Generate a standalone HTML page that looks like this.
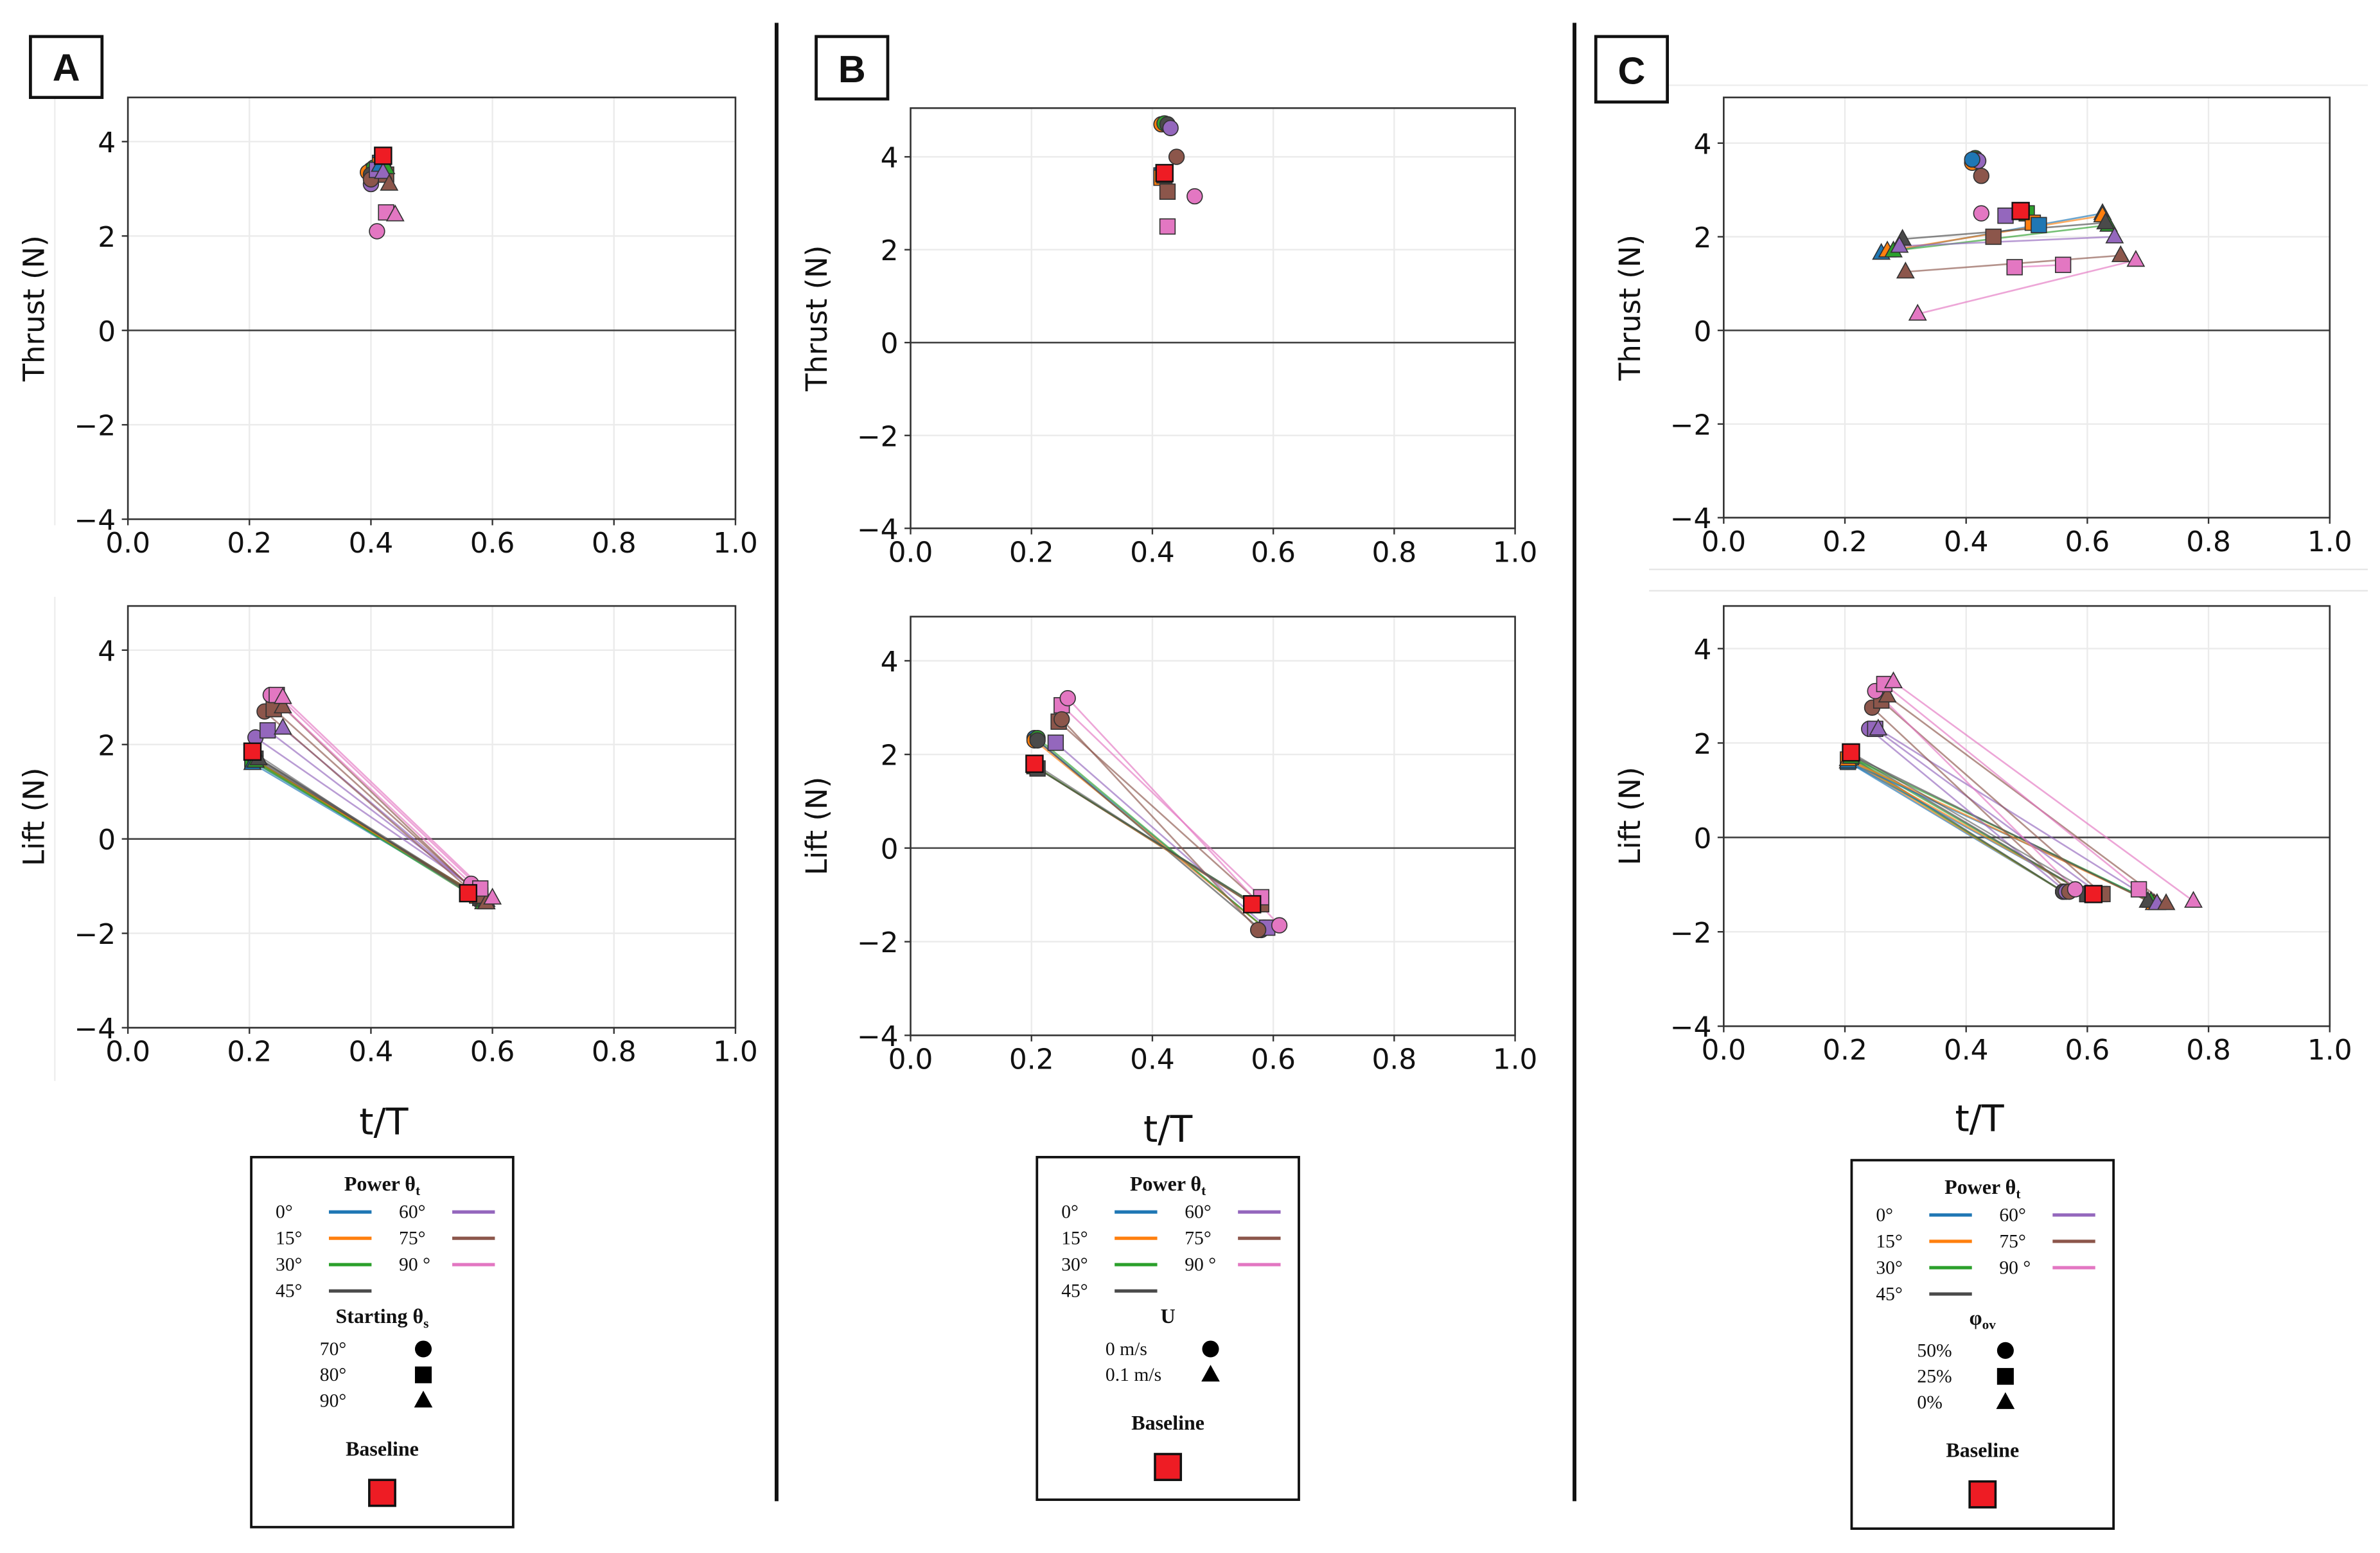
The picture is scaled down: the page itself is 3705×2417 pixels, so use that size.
<!DOCTYPE html>
<html><head><meta charset="utf-8"><style>
html,body{margin:0;padding:0;background:#fff}
svg{display:block}
.tick{font-family:"DejaVu Sans","Liberation Sans",sans-serif;font-size:18.5px;fill:#111}
.ylab{font-family:"DejaVu Sans","Liberation Sans",sans-serif;font-size:19px;fill:#111}
.xlab{font-family:"DejaVu Sans","Liberation Sans",sans-serif;font-size:24px;fill:#111}
.lg{font-family:"Liberation Serif",serif;font-size:12.5px;fill:#111}
.lgb{font-family:"Liberation Serif",serif;font-size:13.5px;font-weight:bold;fill:#111}
.pl{font-family:"Liberation Sans",sans-serif;font-size:25px;font-weight:bold;fill:#111}
</style></head><body>
<svg id="fig" xmlns="http://www.w3.org/2000/svg" width="3705" height="2417" viewBox="0 0 1563 1020" preserveAspectRatio="none">
<rect width="1563" height="1020" fill="#fff"/>
<line x1="510" y1="15" x2="510" y2="986" stroke="#111" stroke-width="2.5"/>
<line x1="1034" y1="15" x2="1034" y2="986" stroke="#111" stroke-width="2.5"/>
<line x1="36" y1="60" x2="36" y2="345" stroke="#eee" stroke-width="1"/>
<line x1="36" y1="392" x2="36" y2="710" stroke="#eee" stroke-width="1"/>
<line x1="1083" y1="56" x2="1555" y2="56" stroke="#eee" stroke-width="1"/>
<line x1="1083" y1="374" x2="1555" y2="374" stroke="#e6e6e6" stroke-width="1"/>
<line x1="1083" y1="388" x2="1555" y2="388" stroke="#e6e6e6" stroke-width="1"/>
<g><rect x="20" y="24" width="47" height="40" fill="#fff" stroke="#111" stroke-width="2"/><text class="pl" x="43.5" y="53" text-anchor="middle">A</text></g>
<g><rect x="536" y="24" width="47" height="41" fill="#fff" stroke="#111" stroke-width="2"/><text class="pl" x="559.5" y="54" text-anchor="middle">B</text></g>
<g><rect x="1048" y="24" width="47" height="43" fill="#fff" stroke="#111" stroke-width="2"/><text class="pl" x="1071.5" y="55" text-anchor="middle">C</text></g>
<text class="xlab" x="252" y="745" text-anchor="middle">t/T</text>
<text class="xlab" x="767" y="750" text-anchor="middle">t/T</text>
<text class="xlab" x="1300" y="743" text-anchor="middle">t/T</text>
<g id="legends"></g>
</svg>
<script>
const NS="http://www.w3.org/2000/svg";
const svg=document.getElementById('fig');
const COL={b:'#1f77b4',o:'#ff7f0e',g:'#2ca02c',k:'#4a4a4a',p:'#9467bd',n:'#8c564b',m:'#e377c2',r:'#ee1c24'};
const xTicks=[0.0,0.2,0.4,0.6,0.8,1.0];
const yTicks=[-4,-2,0,2,4];
// records: [colorKey, shape, t1, v1, t2, v2]  (t2 null => single point)
const thrustA=[
['b','c',0.40,3.40],['o','c',0.395,3.35],['g','c',0.405,3.45],['k','c',0.40,3.30],['p','c',0.40,3.10],['n','c',0.40,3.20],['m','c',0.41,2.10],
['b','s',0.415,3.55],['o','s',0.415,3.50],['g','s',0.42,3.60],['k','s',0.42,3.55],['p','s',0.41,3.40],['n','s',0.425,3.30],['m','s',0.425,2.50],
['b','t',0.415,3.50],['g','t',0.425,3.45],['p','t',0.42,3.35],['n','t',0.43,3.10],['m','t',0.44,2.45]];
const baseThrustA=[0.42,3.70];
const liftA=[
['b','c',0.205,1.70,0.565,-1.10],['o','c',0.205,1.70,0.565,-1.10],['g','c',0.205,1.70,0.565,-1.15],['k','c',0.21,1.75,0.57,-1.15],
['b','s',0.205,1.65,0.575,-1.20],['o','s',0.205,1.70,0.575,-1.20],['g','s',0.205,1.65,0.58,-1.25],['k','s',0.21,1.70,0.58,-1.25],
['b','t',0.205,1.60,0.585,-1.30],['o','t',0.21,1.65,0.585,-1.30],['g','t',0.21,1.65,0.585,-1.35],['k','t',0.215,1.70,0.59,-1.35],
['p','c',0.21,2.15,0.565,-1.00],['p','s',0.23,2.30,0.575,-1.10],['p','t',0.255,2.35,0.59,-1.30],
['n','c',0.225,2.70,0.565,-1.10],['n','s',0.24,2.75,0.58,-1.20],['n','t',0.255,2.80,0.59,-1.35],
['m','c',0.235,3.05,0.565,-0.95],['m','s',0.245,3.05,0.58,-1.05],['m','t',0.255,3.00,0.60,-1.25]];
const baseLiftA=[0.205,1.85,0.56,-1.15];
const thrustB=[
['b','c',0.42,4.70],['o','c',0.415,4.70],['g','c',0.42,4.72],['k','c',0.425,4.70],['p','c',0.43,4.62],['n','c',0.44,4.00],['m','c',0.47,3.15],
['b','s',0.415,3.60],['o','s',0.415,3.55],['g','s',0.42,3.60],['k','s',0.42,3.62],['n','s',0.425,3.25],['m','s',0.425,2.50]];
const baseThrustB=[0.42,3.65];
const liftB=[
['b','c',0.205,2.35,0.585,-1.70],['o','c',0.205,2.30,0.585,-1.70],['g','c',0.21,2.35,0.585,-1.70],['k','c',0.21,2.30,0.58,-1.75],
['b','s',0.205,1.75,0.565,-1.20],['o','s',0.205,1.75,0.565,-1.20],['g','s',0.205,1.75,0.57,-1.20],['k','s',0.21,1.70,0.57,-1.20],
['p','s',0.24,2.25,0.59,-1.70],['n','s',0.245,2.70,0.58,-1.20],['m','s',0.25,3.05,0.58,-1.05],['m','c',0.26,3.20,0.61,-1.65],['n','c',0.25,2.75,0.575,-1.75]];
const baseLiftB=[0.205,1.80,0.565,-1.20];
const thrustC=[
['b','t',0.26,1.65,0.625,2.50],['o','t',0.27,1.70,0.625,2.45],['g','t',0.28,1.70,0.635,2.25],['k','t',0.295,1.95,0.63,2.30],
['p','t',0.29,1.80,0.645,2.00],['n','t',0.30,1.25,0.655,1.60],['m','t',0.32,0.35,0.68,1.50],['m','s',0.48,1.35,0.56,1.40],
['g','c',0.415,3.68],['o','c',0.41,3.58],['k','c',0.415,3.65],['p','c',0.42,3.62],['b','c',0.41,3.65],['n','c',0.425,3.30],['m','c',0.425,2.50],
['p','s',0.465,2.45],['g','s',0.50,2.50],['o','s',0.51,2.30],['b','s',0.52,2.25],['n','s',0.445,2.00]];
const baseThrustC=[0.49,2.55];
const liftC=[
['b','c',0.205,1.60,0.56,-1.15],['o','c',0.205,1.65,0.56,-1.15],['g','c',0.205,1.70,0.56,-1.15],['k','c',0.21,1.70,0.56,-1.15],
['b','s',0.205,1.60,0.60,-1.20],['o','s',0.205,1.65,0.60,-1.20],['g','s',0.21,1.70,0.60,-1.20],['k','s',0.21,1.75,0.60,-1.20],
['b','t',0.205,1.60,0.715,-1.40],['o','t',0.205,1.65,0.71,-1.40],['g','t',0.21,1.70,0.705,-1.35],['k','t',0.21,1.75,0.70,-1.35],
['p','c',0.24,2.30,0.565,-1.15],['p','s',0.25,2.30,0.62,-1.20],['p','t',0.255,2.30,0.715,-1.40],
['n','c',0.245,2.75,0.57,-1.15],['n','s',0.26,2.90,0.625,-1.20],['n','t',0.27,3.00,0.73,-1.40],
['m','c',0.25,3.10,0.58,-1.10],['m','s',0.265,3.25,0.685,-1.10],['m','t',0.28,3.30,0.775,-1.35]];
const baseLiftC=[0.21,1.80,0.61,-1.20];

function el(tag,attrs,parent){const e=document.createElementNS(NS,tag);for(const k in attrs)e.setAttribute(k,attrs[k]);(parent||svg).appendChild(e);return e;}
function marker(g,shape,cx,cy,color,r){
  let m;
  if(shape==='c') m=el('circle',{cx:cx,cy:cy,r:r},g);
  else if(shape==='s') m=el('rect',{x:cx-r,y:cy-r,width:2*r,height:2*r},g);
  else m=el('polygon',{points:`${cx},${cy-r*1.2} ${cx+r*1.1},${cy+r*0.8} ${cx-r*1.1},${cy+r*0.8}`},g);
  m.setAttribute('fill',color);m.setAttribute('stroke','#333');m.setAttribute('stroke-width','0.7');
  return m;
}
function axes(name,x0,x1,yTop,yZero,yBot,ylab,recs,base){
  const g=el('g',{});
  
  
  const sx=t=>x0+(x1-x0)*t;
  const sy=v=>yZero-(yBot-yZero)/4*v;
  xTicks.forEach(t=>{const l=el('line',{x1:sx(t),x2:sx(t),y1:yTop,y2:yBot,stroke:'#ebebeb','stroke-width':1},g);
    });
  yTicks.forEach(v=>{const l=el('line',{x1:x0,x2:x1,y1:sy(v),y2:sy(v),stroke:'#ebebeb','stroke-width':1},g);
    });
  const z=el('line',{x1:x0,x2:x1,y1:sy(0),y2:sy(0),stroke:'#444','stroke-width':1.1},g);
  
  xTicks.forEach(t=>{el('line',{x1:sx(t),x2:sx(t),y1:yBot,y2:yBot+4,stroke:'#333'},g);
    const tx=el('text',{x:sx(t),y:yBot+22,'text-anchor':'middle',class:'tick'},g);tx.textContent=t.toFixed(1);
    });
  yTicks.forEach(v=>{el('line',{x1:x0-4,x2:x0,y1:sy(v),y2:sy(v),stroke:'#333'},g);
    const tx=el('text',{x:x0-8,y:sy(v)+7,'text-anchor':'end',class:'tick'},g);tx.textContent=v<0?'\u2212'+Math.abs(v):String(v);
    });
  const yl=el('text',{x:0,y:0,class:'ylab','text-anchor':'middle',transform:`translate(${x0-55},${(yTop+yBot)/2}) rotate(-90)`},g);
  yl.textContent=ylab;
  
  recs.forEach(r=>{if(r[4]!=null){const l=el('line',{x1:sx(r[2]),y1:sy(r[3]),x2:sx(r[4]),y2:sy(r[5]),stroke:COL[r[0]],'stroke-width':1.1,'stroke-opacity':0.65},g);
    }});
  if(base.length>2){const l=el('line',{x1:sx(base[0]),y1:sy(base[1]),x2:sx(base[2]),y2:sy(base[3]),stroke:'#555','stroke-width':1,'stroke-opacity':0.6},g);
    }
  recs.forEach(r=>{
    const m=marker(g,r[1],sx(r[2]),sy(r[3]),COL[r[0]],5);
    
    
    if(r[4]!=null){const m2=marker(g,r[1],sx(r[4]),sy(r[5]),COL[r[0]],5);
      
      }
  });
  for(let i=0;i<base.length;i+=2){const m=marker(g,'s',sx(base[i]),sy(base[i+1]),COL.r,5.5);
    m.setAttribute('stroke','#111');m.setAttribute('stroke-width','1');
    
    }
  const fr=el('rect',{x:x0,y:yTop,width:x1-x0,height:yBot-yTop,fill:'none',stroke:'#333','stroke-width':1.1},g);
  
}
axes('thrust-plot-a',84,483,64,217,341,'Thrust (N)',thrustA,baseThrustA);
axes('lift-plot-a',84,483,398,551,675,'Lift (N)',liftA,baseLiftA);
axes('thrust-plot-b',598,995,71,225,347,'Thrust (N)',thrustB,baseThrustB);
axes('lift-plot-b',598,995,405,557,680,'Lift (N)',liftB,baseLiftB);
axes('thrust-plot-c',1132,1530,64,217,340,'Thrust (N)',thrustC,baseThrustC);
axes('lift-plot-c',1132,1530,398,550,674,'Lift (N)',liftC,baseLiftC);

const powerL=['0°','15°','30°','45°'], powerR=['60°','75°','90 °'];
const powerLC=['b','o','g','k'], powerRC=['p','n','m'];
function legend(name,bx,by,bw,bh,shapeTitle,shapeLabels,titleDy,baseY){
  const g=el('g',{});
  
  
  el('rect',{x:bx,y:by,width:bw,height:bh,fill:'#fff',stroke:'#111','stroke-width':1.6},g);
  const cx=bx+bw/2;
  const t=el('text',{x:cx,y:by+22,'text-anchor':'middle',class:'lgb'},g);
  t.innerHTML='Power θ<tspan font-size="9" dy="3">t</tspan>';
  powerL.forEach((s,i)=>{const y=by+36+i*17.3;
    const tx=el('text',{x:bx+16,y:y+4,class:'lg'},g);tx.textContent=s;
    el('line',{x1:bx+51,x2:bx+79,y1:y,y2:y,stroke:COL[powerLC[i]],'stroke-width':2.2},g);});
  powerR.forEach((s,i)=>{const y=by+36+i*17.3;
    const tx=el('text',{x:bx+97,y:y+4,class:'lg'},g);tx.textContent=s;
    el('line',{x1:bx+132,x2:bx+160,y1:y,y2:y,stroke:COL[powerRC[i]],'stroke-width':2.2},g);});
  const st=el('text',{x:cx,y:by+titleDy,'text-anchor':'middle',class:'lgb'},g);
  st.innerHTML=shapeTitle;
  shapeLabels.forEach((s,i)=>{const y=by+titleDy+17+i*17;
    const tx=el('text',{x:s[2],y:y+4,class:'lg'},g);tx.textContent=s[0];
    const m=marker(g,s[1],s[3],y,'#000',5.5);m.setAttribute('stroke','none');});
  const bt=el('text',{x:cx,y:baseY,'text-anchor':'middle',class:'lgb'},g);bt.textContent='Baseline';
  el('rect',{x:cx-8.5,y:baseY+16,width:17,height:17,fill:COL.r,stroke:'#111','stroke-width':1.5},g);
}
legend('legend-a',165,760,172,243,'Starting θ<tspan font-size="9" dy="3">s</tspan>',[['70°','c',210,278],['80°','s',210,278],['90°','t',210,278]],109,956);
legend('legend-b',681,760,172,225,'U',[['0 m/s','c',726,795],['0.1 m/s','t',726,795]],109,939);
legend('legend-c',1216,762,172,242,'φ<tspan font-size="9" dy="3">ov</tspan>',[['50%','c',1259,1317],['25%','s',1259,1317],['0%','t',1259,1317]],108,957);
</script>
</body></html>
